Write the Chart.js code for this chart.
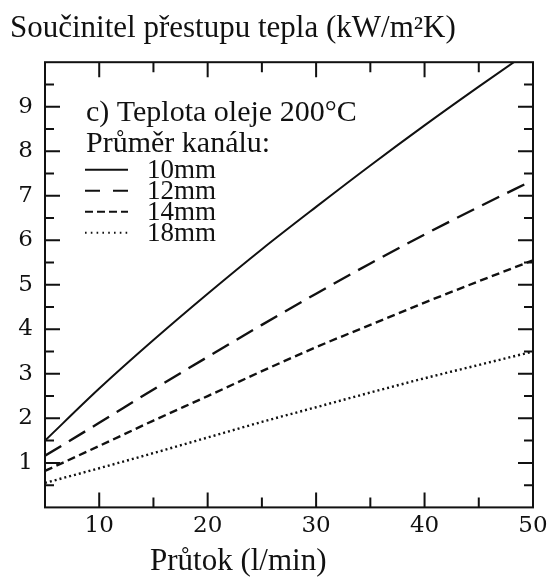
<!DOCTYPE html>
<html><head><meta charset="utf-8">
<script src="https://cdn.jsdelivr.net/npm/chart.js@4/dist/chart.umd.min.js"></script>
<style>html,body{margin:0;padding:0;background:#fff}#wrap{width:549px;height:577px;position:relative}</style>
</head><body><div id="wrap"><canvas id="c"></canvas></div>
<script>
// ---- data ----
const flowRates = [5, 10, 15, 20, 25, 30, 35, 40, 45, 50];
const htc10mm = [1.50, 2.67, 3.76, 4.80, 5.80, 6.75, 7.68, 8.58, 9.45, 10.30];
const htc12mm = [1.16, 1.90, 2.65, 3.38, 4.10, 4.80, 5.48, 6.13, 6.75, 7.35];
const htc14mm = [0.82, 1.38, 1.95, 2.50, 3.06, 3.60, 4.10, 4.60, 5.08, 5.55];
const htc18mm = [0.55, 0.88, 1.22, 1.57, 1.92, 2.25, 2.58, 2.90, 3.20, 3.50];
const seriesLabels = ['10mm', '12mm', '14mm', '18mm'];
const xTickLabels = [10, 20, 30, 40, 50];
const yTickLabels = [1, 2, 3, 4, 5, 6, 7, 8, 9];
const titleText = 'Součinitel přestupu tepla (kW/m²K)';
const xTitleText = 'Průtok (l/min)';
const legendHeader = ['c) Teplota oleje 200°C', 'Průměr kanálu:'];

const SERIF = '"Liberation Serif", "Times New Roman", serif';
const NUMFONT = '"DejaVu Serif", serif';
const INK = '#111';

const seriesValues = [htc10mm, htc12mm, htc14mm, htc18mm];
const dashStyles = [[], [19, 9], [8, 4.5], [2, 3]];
const legendDash = [[], [15, 13], [8, 4], [1.6, 4.2]];
const widths = [2, 2.4, 2.4, 2.4];

const datasets = seriesValues.map((vals, i) => ({
  label: seriesLabels[i],
  data: flowRates.map((x, k) => ({ x: x, y: vals[k] })),
  borderColor: INK,
  borderWidth: widths[i],
  borderDash: dashStyles[i],
  pointRadius: 0,
  fill: false,
  cubicInterpolationMode: 'monotone'
}));

const frameAndTicks = {
  id: 'frameAndTicks',
  afterDatasetsDraw(chart) {
    const { ctx, chartArea: a, scales: { x, y } } = chart;
    ctx.save();
    ctx.strokeStyle = INK;
    ctx.lineWidth = 2;
    ctx.setLineDash([]);
    ctx.strokeRect(a.left, a.top, a.right - a.left, a.bottom - a.top);
    ctx.beginPath();
    for (let v = x.min + 5; v < x.max; v += 5) {
      const px = x.getPixelForValue(v);
      const len = v % 10 === 0 ? 15 : 10;
      ctx.moveTo(px, a.bottom); ctx.lineTo(px, a.bottom - len);
      ctx.moveTo(px, a.top); ctx.lineTo(px, a.top + len);
    }
    for (let v = y.min + 0.5; v < y.max - 0.01; v += 0.5) {
      const py = y.getPixelForValue(v);
      const len = Math.abs(v - Math.round(v)) < 0.01 ? 15 : 9;
      ctx.moveTo(a.left, py); ctx.lineTo(a.left + len, py);
      ctx.moveTo(a.right, py); ctx.lineTo(a.right - len, py);
    }
    ctx.stroke();
    ctx.restore();
  },
  afterDraw(chart) {
    const { ctx, chartArea: a } = chart;
    ctx.save();
    ctx.fillStyle = INK;
    ctx.textBaseline = 'alphabetic';
    ctx.textAlign = 'left';
    ctx.font = '30px ' + SERIF;
    const lx = a.left + 41;
    ctx.fillText(legendHeader[0], lx, a.top + 59);
    ctx.fillText(legendHeader[1], lx, a.top + 90);
    ctx.font = '27px ' + SERIF;
    chart.data.datasets.forEach((ds, i) => {
      const base = a.top + 115.5 + i * 21;
      ctx.strokeStyle = INK;
      ctx.lineWidth = 2;
      ctx.setLineDash(legendDash[i]);
      ctx.beginPath();
      ctx.moveTo(lx - 1, base - 8);
      ctx.lineTo(lx + 42, base - 8);
      ctx.stroke();
      ctx.setLineDash([]);
      ctx.fillText(ds.label, lx + 61, base);
    });
    ctx.font = '31px ' + SERIF;
    ctx.fillText(xTitleText, a.left + 105, 570);
    ctx.restore();
  }
};

new Chart(document.getElementById('c'), {
  type: 'line',
  data: { datasets: datasets },
  options: {
    responsive: true,
    maintainAspectRatio: false,
    animation: false,
    layout: { padding: { left: 10, right: 16, top: 0, bottom: 32 } },
    plugins: {
      legend: { display: false },
      tooltip: { enabled: false },
      title: {
        display: true,
        text: titleText,
        align: 'start',
        color: INK,
        font: { family: SERIF, size: 31, weight: 'normal' },
        padding: { top: 10, bottom: 15 }
      }
    },
    scales: {
      x: {
        type: 'linear',
        min: 5, max: 50,
        afterBuildTicks: s => { s.ticks = xTickLabels.map(v => ({ value: v })); },
        afterFit: s => { s.paddingLeft = 0; s.paddingRight = 0; },
        grid: { display: false, drawTicks: false },
        border: { display: false },
        ticks: { color: INK, font: { family: NUMFONT, size: 23 }, padding: 5, maxRotation: 0 }
      },
      y: {
        type: 'linear',
        min: 0, max: 10,
        afterBuildTicks: s => { s.ticks = yTickLabels.map(v => ({ value: v })); },
        afterFit: s => { s.width = 35; },
        grid: { display: false, drawTicks: false },
        border: { display: false },
        ticks: { color: INK, font: { family: NUMFONT, size: 23 }, padding: 12 }
      }
    }
  },
  plugins: [frameAndTicks]
});
</script>
</body></html>
